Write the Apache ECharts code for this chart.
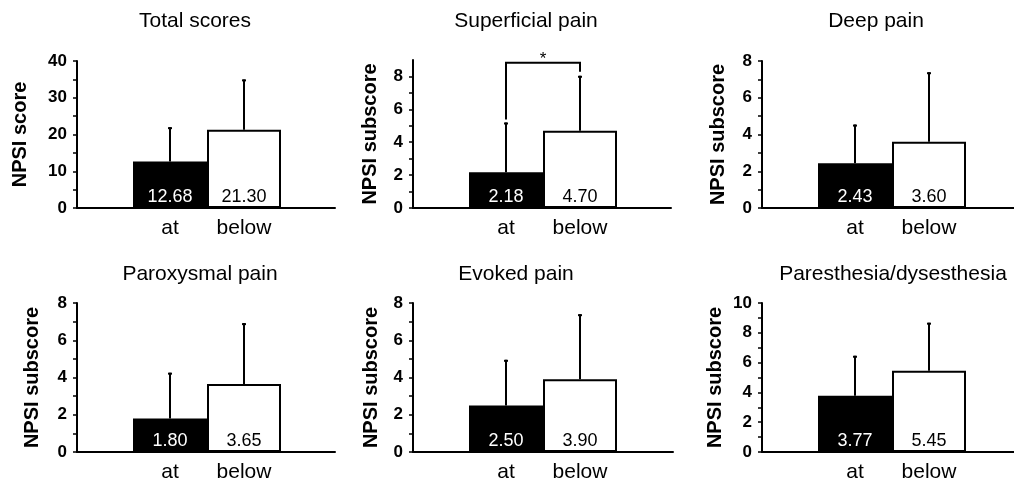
<!DOCTYPE html>
<html>
<head>
<meta charset="utf-8">
<script src="https://cdn.jsdelivr.net/npm/echarts@6/dist/echarts.min.js"></script>
<style>
  html, body { margin: 0; padding: 0; background: #fff; }
  #chart { width: 1014px; height: 484px; }
</style>
</head>
<body>
<div id="chart"></div>
<script>
// data
const titles = ['Total scores', 'Superficial pain', 'Deep pain', 'Paroxysmal pain', 'Evoked pain', 'Paresthesia/dysesthesia']
const yNames = ['NPSI score', 'NPSI subscore', 'NPSI subscore', 'NPSI subscore', 'NPSI subscore', 'NPSI subscore']
const groups = ['at', 'below']
const atMeans = [12.68, 2.18, 2.43, 1.80, 2.50, 3.77]
const belowMeans = [21.30, 4.70, 3.60, 3.65, 3.90, 5.45]
const atSD = [9.32, 3.02, 2.11, 2.46, 2.45, 2.69]
const belowSD = [13.7, 3.34, 3.79, 3.27, 3.50, 3.23]
const yMax = [40, 9, 8, 8, 8, 10]
const yTicks = [
  [0, 5, 10, 15, 20, 25, 30, 35, 40],
  [0, 1, 2, 3, 4, 5, 6, 7, 8],
  [0, 1, 2, 3, 4, 5, 6, 7, 8],
  [0, 1, 2, 3, 4, 5, 6, 7, 8],
  [0, 1, 2, 3, 4, 5, 6, 7, 8],
  [0, 1, 2, 3, 4, 5, 6, 7, 8, 9, 10]
]
const yLabels = [
  [0, 10, 20, 30, 40],
  [0, 2, 4, 6, 8],
  [0, 2, 4, 6, 8],
  [0, 2, 4, 6, 8],
  [0, 2, 4, 6, 8],
  [0, 2, 4, 6, 8, 10]
]
// significance bracket (panel index -> bracket height and mark)
const sigPanel = 1
const sigY = 8.83
const sigMark = '*'

// layout of the 6 panels (pixels)
const layout = [
  { x0: 77, xEnd: 335, top: 61, bottom: 208, titleX: 195, titleY: 11, nameGap: 47 },
  { x0: 413, xEnd: 671, top: 60, bottom: 208, titleX: 526, titleY: 11, nameGap: 33 },
  { x0: 762, xEnd: 1014, top: 61, bottom: 208, titleX: 876, titleY: 11, nameGap: 34 },
  { x0: 77, xEnd: 335, top: 303, bottom: 452, titleX: 200, titleY: 264, nameGap: 35 },
  { x0: 413, xEnd: 673, top: 303, bottom: 452, titleX: 516, titleY: 264, nameGap: 32 },
  { x0: 762, xEnd: 1014, top: 303, bottom: 452, titleX: 893, titleY: 264, nameGap: 37 }
]
const barOffset = 56
const barW = 74
const FONT = 'Liberation Sans, Arial, sans-serif'

const grid = [], xAxis = [], yAxis = [], series = [], title = []

layout.forEach((p, i) => {
  const a = i * 2, b = i * 2 + 1
  // grid A: axes frame
  grid.push({ left: p.x0, top: p.top, width: p.xEnd - p.x0, height: p.bottom - p.top, outerBoundsMode: 'none' })
  // grid B: bars
  grid.push({ left: p.x0 + barOffset, top: p.top, width: barW * 2, height: p.bottom - p.top, outerBoundsMode: 'none' })

  title.push({
    text: titles[i], left: p.titleX, top: p.titleY, textAlign: 'center', padding: 0,
    textStyle: { fontFamily: FONT, fontSize: 21, fontWeight: 'normal', color: '#000' }
  })

  xAxis.push({
    gridIndex: a, type: 'value', min: 0, max: 1,
    axisLine: { show: true, lineStyle: { color: '#000', width: 2 } },
    axisTick: { show: false }, axisLabel: { show: false }, splitLine: { show: false }
  })
  xAxis.push({
    gridIndex: b, type: 'category', data: groups,
    axisLine: { show: false }, axisTick: { show: false }, splitLine: { show: false },
    axisLabel: { fontFamily: FONT, fontSize: 21, color: '#000', margin: 10 }
  })

  yAxis.push({
    gridIndex: a, type: 'value', min: 0, max: yMax[i],
    name: yNames[i], nameLocation: 'middle', nameGap: p.nameGap,
    nameTextStyle: { fontFamily: FONT, fontSize: 20, fontWeight: 'bold', color: '#000' },
    axisLine: { show: true, lineStyle: { color: '#000', width: 2 } },
    axisTick: { show: true, length: 4, customValues: yTicks[i], lineStyle: { color: '#000', width: 1.5 } },
    axisLabel: { customValues: yLabels[i], fontFamily: FONT, fontSize: 17, fontWeight: 'bold', color: '#000', margin: 10 },
    splitLine: { show: false }
  })
  yAxis.push({
    gridIndex: b, type: 'value', min: 0, max: yMax[i], show: false, splitLine: { show: false }
  })

  series.push({
    type: 'bar', xAxisIndex: b, yAxisIndex: b, barWidth: '100%', barCategoryGap: 0,
    data: [
      { value: atMeans[i], itemStyle: { color: '#000' }, label: { color: '#fff' } },
      { value: belowMeans[i], itemStyle: { color: '#fff', borderColor: '#000', borderWidth: 2 }, label: { color: '#000' } }
    ],
    label: {
      show: true, position: 'insideBottom', distance: 2,
      fontFamily: FONT, fontSize: 18, formatter: (d) => d.value.toFixed(2)
    },
    silent: true, animation: false
  })

  series.push({
    type: 'custom', xAxisIndex: b, yAxisIndex: b, z: 5, silent: true, animation: false,
    data: [[0, atMeans[i], atMeans[i] + atSD[i]], [1, belowMeans[i], belowMeans[i] + belowSD[i]]],
    renderItem: (params, api) => {
      const base = api.coord([api.value(0), api.value(1)])
      const top = api.coord([api.value(0), api.value(2)])
      return {
        type: 'group', children: [
          { type: 'line', shape: { x1: base[0], y1: base[1], x2: top[0], y2: top[1] }, style: { stroke: '#000', lineWidth: 2 } },
          { type: 'line', shape: { x1: top[0] - 2, y1: top[1] + 1, x2: top[0] + 2, y2: top[1] + 1 }, style: { stroke: '#000', lineWidth: 2 } }
        ]
      }
    }
  })

  if (i === sigPanel) {
    series.push({
      type: 'custom', xAxisIndex: b, yAxisIndex: b, z: 6, silent: true, animation: false, clip: false,
      data: [[0, 1, sigY, atMeans[i] + atSD[i], belowMeans[i] + belowSD[i]]],
      renderItem: (params, api) => {
        const l = api.coord([api.value(0), api.value(2)])
        const r = api.coord([api.value(1), api.value(2)])
        const lb = api.coord([api.value(0), api.value(3)])
        const rb = api.coord([api.value(1), api.value(4)])
        return {
          type: 'group', children: [
            { type: 'polyline', shape: { points: [[l[0], lb[1] - 3], [l[0], l[1]], [r[0], r[1]], [r[0], rb[1] - 4]] },
              style: { stroke: '#000', lineWidth: 2, fill: null } },
            { type: 'text', style: { x: (l[0] + r[0]) / 2, y: l[1] + 5, text: sigMark, align: 'center', verticalAlign: 'bottom',
              font: '17px ' + FONT, fill: '#000' } }
          ]
        }
      }
    })
  }
})

const chart = echarts.init(document.getElementById('chart'), null, { renderer: 'canvas' })
chart.setOption({ backgroundColor: '#fff', animation: false, title, grid, xAxis, yAxis, series })
</script>
</body>
</html>
